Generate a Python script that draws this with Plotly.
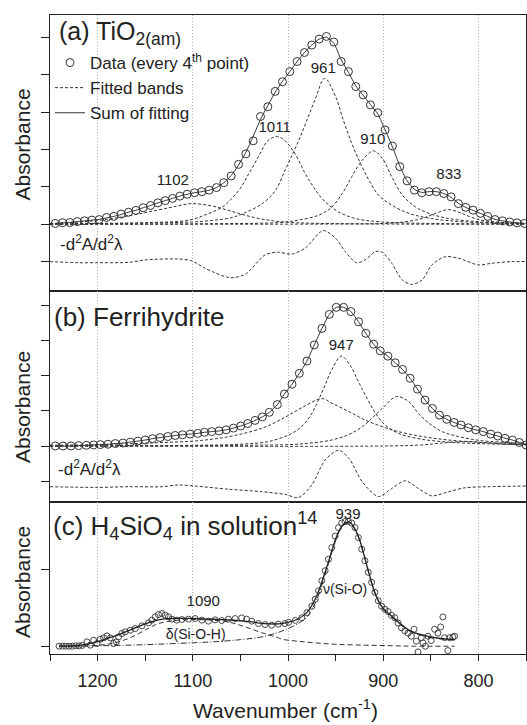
import plotly.graph_objects as go

INK = "#222222"
LINE = "#333333"
FONT = "Liberation Sans, Arial, sans-serif"

# ---------------- Panel (a) TiO2(am) ----------------
A_X = [1244.5, 1236.8, 1229.1, 1221.4, 1213.7, 1206.0, 1198.3, 1190.6, 1182.9, 1175.2,
       1167.5, 1159.8, 1152.1, 1144.4, 1136.7, 1129.0, 1121.3, 1113.6, 1105.9, 1098.2,
       1090.5, 1082.8, 1075.1, 1067.4, 1059.7, 1052.0, 1044.3, 1036.6, 1028.9, 1021.2,
       1013.5, 1005.8, 998.1, 990.4, 982.7, 975.0, 967.3, 959.6, 951.9, 944.2,
       936.5, 928.8, 921.1, 913.4, 905.7, 898.0, 890.3, 882.6, 874.9, 867.2,
       859.5, 851.8, 844.1, 836.4, 828.7, 821.0, 813.3, 805.6, 797.9, 790.2,
       782.5, 774.8, 767.1, 759.4, 751.7]
A_DATA = [0.02, 0.04, 0.045, 0.07, 0.09, 0.11, 0.125, 0.18, 0.21, 0.27,
          0.32, 0.37, 0.44, 0.50, 0.57, 0.63, 0.69, 0.75, 0.80, 0.84,
          0.87, 0.91, 0.98, 1.11, 1.29, 1.60, 1.88, 2.23, 2.88, 3.14,
          3.55, 3.81, 4.08, 4.35, 4.59, 4.79, 4.95, 5.02, 4.87, 4.35,
          4.08, 3.68, 3.46, 3.19, 2.98, 2.52, 2.09, 1.54, 1.16, 0.91,
          0.84, 0.87, 0.87, 0.82, 0.73, 0.55, 0.45, 0.375, 0.29, 0.21,
          0.125, 0.09, 0.06, 0.035, 0.02]
A_SUM = [0.02, 0.035, 0.05, 0.07, 0.09, 0.11, 0.13, 0.17, 0.21, 0.26,
         0.32, 0.37, 0.44, 0.50, 0.57, 0.63, 0.69, 0.75, 0.80, 0.84,
         0.87, 0.91, 0.98, 1.11, 1.30, 1.58, 1.92, 2.35, 2.80, 3.17,
         3.53, 3.82, 4.08, 4.35, 4.59, 4.79, 4.95, 5.00, 4.84, 4.40,
         4.06, 3.70, 3.45, 3.20, 2.95, 2.52, 2.07, 1.56, 1.16, 0.93,
         0.85, 0.87, 0.87, 0.82, 0.72, 0.56, 0.45, 0.37, 0.29, 0.21,
         0.13, 0.09, 0.06, 0.035, 0.02]

A_B1102_X = [1250, 1225, 1200, 1175, 1150, 1125, 1110, 1102, 1090, 1075, 1060, 1045, 1030, 1015, 1000, 980, 950, 900, 850, 750]
A_B1102_Y = [0.02, 0.05, 0.10, 0.19, 0.31, 0.44, 0.52, 0.55, 0.53, 0.46, 0.35, 0.24, 0.15, 0.09, 0.05, 0.03, 0.015, 0.005, 0.0, 0.0]
A_B1011_X = [1250, 1200, 1150, 1104, 1083, 1069, 1059, 1050, 1043, 1036, 1029, 1022, 1013, 1006, 994, 982, 971, 961, 947, 929, 901, 850, 800, 750]
A_B1011_Y = [0.0, 0.02, 0.04, 0.11, 0.29, 0.46, 0.69, 0.96, 1.27, 1.58, 1.90, 2.21, 2.34, 2.29, 1.94, 1.36, 0.91, 0.60, 0.33, 0.15, 0.06, 0.02, 0.01, 0.0]
A_B961_X = [1250, 1150, 1100, 1080, 1060, 1045, 1027, 1013, 1003, 994, 987, 980, 971, 961.5, 950, 942, 933, 924, 915, 905, 891, 873, 849, 814, 750]
A_B961_Y = [0.01, 0.03, 0.06, 0.10, 0.17, 0.31, 0.55, 0.91, 1.45, 1.94, 2.34, 2.79, 3.37, 3.90, 3.41, 2.79, 2.16, 1.63, 1.18, 0.78, 0.51, 0.29, 0.15, 0.06, 0.02]
A_B910_X = [1250, 1100, 1006, 989, 971, 961.5, 954, 943, 933, 922, 910, 901, 891, 880, 866, 852, 831, 796, 750]
A_B910_Y = [0.0, 0.01, 0.05, 0.11, 0.21, 0.32, 0.46, 0.82, 1.27, 1.71, 1.96, 1.76, 1.27, 0.78, 0.46, 0.29, 0.15, 0.06, 0.02]
A_B833_X = [1250, 950, 900, 884, 866, 856, 845, 831.5, 817.5, 807, 793, 768, 750]
A_B833_Y = [0.0, 0.005, 0.02, 0.045, 0.11, 0.18, 0.29, 0.39, 0.29, 0.18, 0.09, 0.036, 0.02]

A_D2_X = [1250, 1220, 1202, 1167, 1150, 1115, 1101, 1087, 1061, 1045, 1024, 1010, 996, 982, 963, 950,
          940, 928, 919, 908, 901, 891, 880, 870, 859, 849, 835, 821, 800, 786, 765, 750]
A_D2_Y = [-1.0, -1.03, -1.03, -1.02, -0.955, -0.93, -0.98, -1.18, -1.43, -1.34, -0.82, -0.75, -0.80, -0.64, -0.17, -0.375,
          -0.73, -1.03, -0.955, -0.73, -0.75, -1.045, -1.49, -1.61, -1.49, -1.09, -0.87, -0.91, -1.09, -1.045, -1.0, -1.0]

A_PEAKS = ["1102", "1011", "961", "910", "833"]
A_PEAK_X = [1121, 1014, 963, 911, 831]
A_PEAK_Y = [1.14, 2.56, 4.14, 2.25, 1.32]

# ---------------- Panel (b) Ferrihydrite ----------------
B_X = [1244.4, 1236.4, 1228.0, 1219.9, 1211.9, 1204.2, 1197.2, 1189.2, 1181.5, 1173.4,
       1165.7, 1157.7, 1150.0, 1142.3, 1134.3, 1126.2, 1118.5, 1110.8, 1102.8, 1094.8,
       1087.8, 1080.1, 1072.4, 1065.0, 1057.3, 1049.7, 1042.3, 1034.6, 1026.9, 1019.6,
       1011.2, 1003.8, 995.8, 988.1, 980.1, 972.4, 964.3, 956.6, 949.3, 941.6,
       933.9, 925.9, 918.2, 910.1, 903.1, 895.1, 887.4, 879.7, 871.7, 864.0,
       856.0, 848.3, 840.9, 833.2, 825.5, 818.2, 810.5, 802.8, 794.8, 787.1,
       779.7, 772.0, 764.3, 757.0, 750.0]
B_DATA = [0.0, 0.0, 0.0, 0.01, 0.02, 0.03, 0.04, 0.05, 0.07, 0.085,
          0.11, 0.14, 0.17, 0.21, 0.24, 0.27, 0.30, 0.32, 0.34, 0.36,
          0.39, 0.41, 0.43, 0.46, 0.51, 0.57, 0.64, 0.73, 0.83, 0.96,
          1.18, 1.48, 1.76, 2.07, 2.42, 2.88, 3.35, 3.75, 3.95, 3.95,
          3.83, 3.54, 3.21, 2.90, 2.71, 2.56, 2.37, 2.18, 1.93, 1.62,
          1.31, 1.07, 0.88, 0.76, 0.67, 0.60, 0.52, 0.46, 0.41, 0.34,
          0.285, 0.22, 0.17, 0.10, 0.03]

B_B947_X = [1250, 1100, 1050, 1020, 996, 984, 975, 968, 961, 954, 944, 935, 926, 917, 908, 898, 884, 859, 825, 790, 750]
B_B947_Y = [0.0, 0.02, 0.05, 0.13, 0.36, 0.60, 0.93, 1.31, 1.74, 2.17, 2.56, 2.31, 1.83, 1.36, 0.93, 0.60, 0.36, 0.19, 0.10, 0.06, 0.04]
B_B965_X = [1250, 1200, 1150, 1091, 1056, 1024, 1003, 985, 964, 954, 936, 919, 901, 884, 859, 831, 796, 750]
B_B965_Y = [0.02, 0.04, 0.08, 0.16, 0.30, 0.54, 0.82, 1.10, 1.35, 1.22, 0.98, 0.74, 0.55, 0.41, 0.27, 0.17, 0.10, 0.06]
B_B885_X = [1250, 1000, 978, 954, 936, 922, 912, 901, 886, 873, 863, 852, 838, 821, 796, 750]
B_B885_Y = [0.0, 0.04, 0.08, 0.17, 0.33, 0.55, 0.79, 1.07, 1.41, 1.26, 0.93, 0.65, 0.41, 0.27, 0.15, 0.08]
B_B815_X = [1250, 900, 860, 840, 815, 795, 770, 750]
B_B815_Y = [0.0, 0.0, 0.03, 0.08, 0.13, 0.10, 0.05, 0.03]

B_D2_X = [1250, 1202, 1167, 1132, 1115, 1098, 1063, 1028, 1003, 989, 975, 961, 947, 936, 922, 905,
          891, 877, 863, 849, 831, 814, 790, 750]
B_D2_Y = [-1.16, -1.18, -1.16, -1.16, -1.11, -1.14, -1.23, -1.30, -1.38, -1.47, -1.11, -0.40, -0.12, -0.35, -1.02, -1.44,
          -1.21, -0.99, -1.21, -1.42, -1.30, -1.19, -1.16, -1.14]

B_PEAKS = ["947"]
B_PEAK_X = [944]
B_PEAK_Y = [2.83]

# ---------------- Panel (c) H4SiO4 in solution ----------------
C_X = [1240.5, 1237.0, 1233.5, 1230.0, 1226.5, 1223.0, 1219.5, 1216.0,
       1211.2, 1207.7, 1204.2, 1200.7, 1197.2, 1193.7, 1190.2, 1186.7, 1183.2, 1180.4,
       1178.0, 1174.5, 1171.0, 1165.7, 1160.5, 1153.5, 1146.5, 1143.0, 1139.5, 1136.0,
       1132.5, 1129.0, 1125.5, 1122.0, 1116.8, 1111.5, 1104.5, 1097.6, 1090.6, 1083.6,
       1076.6, 1069.6, 1062.6, 1055.6, 1048.6, 1043.4, 1038.1, 1031.1, 1024.1, 1017.1,
       1010.1, 1003.1, 999.3, 992.3, 985.4, 980.1, 974.9, 971.4, 967.9, 964.5,
       961.0, 957.5, 954.0, 950.5, 947.0, 943.6, 940.1, 936.6, 933.1, 929.6,
       926.1, 922.6, 919.2, 915.7, 912.2, 908.7, 905.2, 901.7, 898.3, 894.8,
       891.3, 887.8, 884.3, 880.8, 877.4, 873.9, 870.4, 867.6, 865.2, 863.4,
       860.0, 858.2, 855.7, 853.0, 849.5, 846.0, 842.5, 839.7, 837.3, 835.5,
       832.1, 830.3, 826.8, 825.0]
C_DATA = [0.0, 0.0, 0.0, 0.0, 0.0, 0.005, 0.005, 0.01,
          0.056, 0.013, 0.078, 0.035, 0.09, 0.108, 0.134, 0.108, 0.035, 0.056,
          0.121, 0.165, 0.186, 0.208, 0.229, 0.264, 0.303, 0.338, 0.381, 0.411,
          0.424, 0.403, 0.381, 0.351, 0.338, 0.346, 0.351, 0.359, 0.338, 0.325,
          0.342, 0.333, 0.351, 0.359, 0.368, 0.351, 0.325, 0.294, 0.281, 0.273,
          0.286, 0.294, 0.31, 0.335, 0.37, 0.435, 0.52, 0.61, 0.72, 0.85,
          0.98, 1.13, 1.28, 1.43, 1.54, 1.60, 1.62, 1.62, 1.60, 1.54,
          1.41, 1.26, 1.11, 0.96, 0.83, 0.70, 0.59, 0.52, 0.48, 0.45,
          0.40, 0.37, 0.30, 0.24, 0.20, 0.17, 0.13, 0.22, 0.065, -0.074,
          0.11, 0.043, 0.0, 0.13, 0.074, 0.22, 0.17, 0.25, 0.38, 0.11,
          -0.057, 0.11, 0.12, 0.13]

C_FIT_X = [1240, 1220, 1210, 1200, 1190, 1180, 1170, 1160, 1150, 1140, 1130, 1120, 1110, 1100, 1090, 1080,
           1070, 1060, 1050, 1040, 1030, 1020, 1010, 1000, 990, 980, 970, 960, 950, 945, 940, 935,
           930, 925, 920, 915, 910, 905, 900, 895, 890, 880, 870, 860, 850, 840, 830, 825]
C_FIT_Y = [0.0, 0.01, 0.03, 0.06, 0.10, 0.14, 0.19, 0.24, 0.29, 0.33, 0.355, 0.36, 0.36, 0.36, 0.355, 0.35,
           0.345, 0.34, 0.33, 0.32, 0.30, 0.29, 0.29, 0.31, 0.35, 0.44, 0.65, 1.00, 1.39, 1.53, 1.60, 1.61,
           1.53, 1.39, 1.18, 0.95, 0.74, 0.59, 0.49, 0.43, 0.38, 0.27, 0.19, 0.15, 0.12, 0.10, 0.09, 0.085]
C_DELTA_X = [1240, 1199, 1178, 1160, 1146, 1136, 1122, 1101, 1080, 1063, 1045, 1028, 1010, 1006, 990, 971, 950, 919, 890, 867, 825]
C_DELTA_Y = [0.0, 0.013, 0.056, 0.143, 0.238, 0.294, 0.329, 0.346, 0.338, 0.316, 0.251, 0.177, 0.108, 0.09, 0.065, 0.043, 0.025, 0.013, 0.006, 0.0, 0.0]
C_NU_X = [1240, 1200, 1150, 1100, 1080, 1050, 1028, 1010, 1000, 990, 980, 970, 960, 950, 945, 940,
          935, 930, 925, 920, 915, 910, 905, 900, 890, 880, 870, 860, 850, 840, 825]
C_NU_Y = [0.0, 0.005, 0.02, 0.045, 0.056, 0.085, 0.12, 0.18, 0.23, 0.29, 0.38, 0.60, 0.97, 1.37, 1.52, 1.59,
          1.60, 1.52, 1.38, 1.17, 0.94, 0.73, 0.58, 0.48, 0.37, 0.26, 0.18, 0.14, 0.11, 0.095, 0.08]

C_LABELS = ["939", "1090", "&#957;(Si-O)", "&#948;(Si-O-H)"]
C_LABEL_X = [937, 1089, 940, 1097]
C_LABEL_Y = [1.70, 0.57, 0.717, 0.145]

X_RANGE = [1250, 750]
MAJOR = [1200, 1100, 1000, 900, 800]
MINOR = [1250, 1150, 1050, 950, 850, 750]
ALL_TICKS = [1250, 1200, 1150, 1100, 1050, 1000, 950, 900, 850, 800, 750]

# ---------------- figure ----------------
W, H = 527, 725
ML, MR, MT, MB = 50, 1, 15, 71
PH = H - MT - MB
PW = W - ML - MR


def py(p):
    return (H - MB - p) / PH


def px(p):
    return (p - ML) / PW


fig = go.Figure()
band_style = dict(color=LINE, width=1, dash="3px,2px", shape="spline")

# panel a (x, y)
fig.add_trace(go.Scatter(x=A_X, y=A_DATA, mode="markers", name="Data (every 4<sup>th</sup> point)",
                         marker=dict(symbol="circle-open", size=8, color=LINE, line=dict(width=1)),
                         xaxis="x", yaxis="y", legendrank=1))
first = True
for bx, by in [(A_B1102_X, A_B1102_Y), (A_B1011_X, A_B1011_Y), (A_B961_X, A_B961_Y),
               (A_B910_X, A_B910_Y), (A_B833_X, A_B833_Y)]:
    fig.add_trace(go.Scatter(x=bx, y=by, mode="lines", line=band_style, name="Fitted bands",
                             showlegend=first, xaxis="x", yaxis="y", legendrank=2))
    first = False
fig.add_trace(go.Scatter(x=A_X, y=A_SUM, mode="lines", name="Sum of fitting",
                         line=dict(color=LINE, width=1, shape="spline", smoothing=0.6),
                         xaxis="x", yaxis="y", legendrank=3))
fig.add_trace(go.Scatter(x=A_D2_X, y=A_D2_Y, mode="lines",
                         line=dict(color=LINE, width=1, dash="3px,2px", shape="spline", smoothing=0.8),
                         showlegend=False, xaxis="x", yaxis="y"))
fig.add_trace(go.Scatter(x=A_PEAK_X, y=A_PEAK_Y, mode="text", text=A_PEAKS,
                         textfont=dict(size=15, color=INK, family=FONT), showlegend=False, xaxis="x", yaxis="y"))

# panel b (x2, y2)
fig.add_trace(go.Scatter(x=B_X, y=B_DATA, mode="markers",
                         marker=dict(symbol="circle-open", size=8, color=LINE, line=dict(width=1)),
                         showlegend=False, xaxis="x2", yaxis="y2"))
for bx, by in [(B_B947_X, B_B947_Y), (B_B965_X, B_B965_Y), (B_B885_X, B_B885_Y), (B_B815_X, B_B815_Y)]:
    fig.add_trace(go.Scatter(x=bx, y=by, mode="lines", line=band_style, showlegend=False, xaxis="x2", yaxis="y2"))
fig.add_trace(go.Scatter(x=B_X, y=B_DATA, mode="lines", line=dict(color=LINE, width=1, shape="spline", smoothing=0.6),
                         showlegend=False, xaxis="x2", yaxis="y2"))
fig.add_trace(go.Scatter(x=B_D2_X, y=B_D2_Y, mode="lines",
                         line=dict(color=LINE, width=1, dash="3px,2px", shape="spline", smoothing=0.8),
                         showlegend=False, xaxis="x2", yaxis="y2"))
fig.add_trace(go.Scatter(x=B_PEAK_X, y=B_PEAK_Y, mode="text", text=B_PEAKS,
                         textfont=dict(size=15, color=INK, family=FONT), showlegend=False, xaxis="x2", yaxis="y2"))

# panel c (x3, y3)
fig.add_trace(go.Scatter(x=C_NU_X, y=C_NU_Y, mode="lines",
                         line=dict(color=LINE, width=1, dash="6px,2px,1px,2px", shape="spline"),
                         showlegend=False, xaxis="x3", yaxis="y3"))
fig.add_trace(go.Scatter(x=C_DELTA_X, y=C_DELTA_Y, mode="lines",
                         line=dict(color=LINE, width=1, dash="5px,3px", shape="spline"),
                         showlegend=False, xaxis="x3", yaxis="y3"))
fig.add_trace(go.Scatter(x=C_X, y=C_DATA, mode="markers",
                         marker=dict(symbol="circle-open", size=6, color=LINE, line=dict(width=0.9)),
                         showlegend=False, xaxis="x3", yaxis="y3"))
fig.add_trace(go.Scatter(x=C_FIT_X, y=C_FIT_Y, mode="lines", line=dict(color=INK, width=1.3, shape="spline"),
                         showlegend=False, xaxis="x3", yaxis="y3"))
fig.add_trace(go.Scatter(x=C_LABEL_X, y=C_LABEL_Y, mode="text", text=C_LABELS,
                         textfont=dict(size=[15, 15, 14, 14], color=INK, family=FONT),
                         showlegend=False, xaxis="x3", yaxis="y3"))

DOM_A = [py(291), 1.0]
DOM_B = [py(502), py(291)]
DOM_C = [0.0, py(502)]


def xbase(anchor, bottom_labels=False):
    d = dict(range=X_RANGE, anchor=anchor, showline=True, mirror=True, linecolor=INK, linewidth=1.3,
             tickmode="array", tickvals=MAJOR, showgrid=True, gridcolor="#b4b4b4", griddash="1px,2px",
             gridwidth=1, zeroline=False)
    if bottom_labels:
        d.update(ticks="outside", ticklen=6, tickwidth=1, tickcolor=INK, showticklabels=True,
                 ticklabelstandoff=4,
                 tickfont=dict(size=18, color=INK, family=FONT),
                 minor=dict(tickvals=MINOR, ticks="outside", ticklen=6,
                            tickwidth=1, tickcolor=INK, showgrid=False))
    else:
        d.update(ticks="", showticklabels=False)
    return d


def xtop(over, anchor):
    return dict(range=X_RANGE, overlaying=over, anchor=anchor, side="top", tickmode="array", tickvals=ALL_TICKS,
                ticks="inside", ticklen=5, tickwidth=1, tickcolor=INK, showticklabels=False, showgrid=False,
                showline=False, zeroline=False)


def ybase(rng, dom, anchor, tv):
    return dict(range=rng, domain=dom, anchor=anchor, showline=True, mirror=True, linecolor=INK, linewidth=1.3,
                tickmode="array", tickvals=tv, ticks="outside", ticklen=8, tickwidth=1, tickcolor=INK,
                showticklabels=False, showgrid=False, zeroline=False)


def yright(rng, over, anchor, tv):
    return dict(range=rng, overlaying=over, anchor=anchor, side="right", tickmode="array", tickvals=tv,
                ticks="inside", ticklen=8, tickwidth=1, tickcolor=INK, showticklabels=False,
                showgrid=False, showline=False, zeroline=False)


RA = [-(291 - 224.2) / 37.4, (224.2 - 15) / 37.4]
RB = [-(502 - 446) / 35.1, (446 - 291) / 35.1]
RC = [-(654 - 646.2) / 77.0, (646.2 - 502) / 77.0]
TA = [-1, 0, 1, 2, 3, 4, 5]
TB = [-1, 0, 1, 2, 3, 4]
TC = [0, 1]

fig.update_layout(
    width=W, height=H, margin=dict(l=ML, r=MR, t=MT, b=MB),
    paper_bgcolor="white", plot_bgcolor="white",
    font=dict(family=FONT, color=INK),
    xaxis=xbase("y"), yaxis=ybase(RA, DOM_A, "x", TA),
    xaxis2=xbase("y2"), yaxis2=ybase(RB, DOM_B, "x2", TB),
    xaxis3=xbase("y3", bottom_labels=True), yaxis3=ybase(RC, DOM_C, "x3", TC),
    xaxis4=xtop("x", "y"), xaxis5=xtop("x2", "y2"), xaxis6=xtop("x3", "y3"),
    yaxis4=yright(RA, "y", "x", TA), yaxis5=yright(RB, "y2", "x2", TB), yaxis6=yright(RC, "y3", "x3", TC),
    showlegend=True,
    legend=dict(x=0, y=py(45), xanchor="left", yanchor="top", bgcolor="rgba(0,0,0,0)",
                font=dict(size=17, color=INK, family=FONT), itemwidth=30, tracegroupgap=0,
                traceorder="normal"),
)

ann = []
ann.append(dict(text="(a) TiO<sub>2(am)</sub>", x=px(57), y=py(33), xanchor="left", yanchor="middle",
                font=dict(size=25)))
ann.append(dict(text="(b) Ferrihydrite", x=px(52), y=py(317), xanchor="left", yanchor="middle",
                font=dict(size=26)))
ann.append(dict(text="(c) H<sub>4</sub>SiO<sub>4</sub> in solution<sup>14</sup>", x=px(51), y=py(526),
                xanchor="left", yanchor="middle", font=dict(size=26)))
ann.append(dict(text="-d<sup>2</sup>A/d<sup>2</sup>&#955;", x=px(58), y=py(243), xanchor="left",
                yanchor="middle", font=dict(size=17)))
ann.append(dict(text="-d<sup>2</sup>A/d<sup>2</sup>&#955;", x=px(56), y=py(468), xanchor="left",
                yanchor="middle", font=dict(size=17)))
for yc in (144.5, 407, 582):
    ann.append(dict(text="Absorbance", x=px(22), y=py(yc), xanchor="center", yanchor="middle",
                    textangle=-90, font=dict(size=21)))
ann.append(dict(text="Wavenumber (cm<sup>-1</sup>)", x=px(285), y=py(709), xanchor="center",
                yanchor="middle", font=dict(size=21)))
for a in ann:
    a.update(xref="paper", yref="paper", showarrow=False)
    a["font"].update(color=INK, family=FONT)
fig.update_layout(annotations=ann)

fig.write_html("out.html")
